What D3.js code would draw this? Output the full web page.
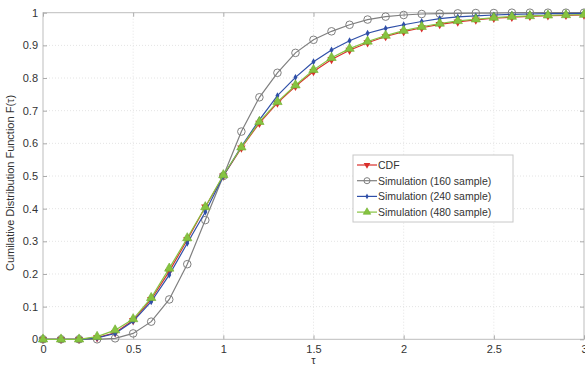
<!DOCTYPE html>
<html><head><meta charset="utf-8">
<script src="https://cdn.jsdelivr.net/npm/d3@7"></script>
<style>body{margin:0;background:#fff}svg{display:block}</style>
</head><body>
<svg id="c" width="585" height="365"></svg>
<script>
const tau = [0,0.1,0.2,0.3,0.4,0.5,0.6,0.7,0.8,0.9,1.0,1.1,1.2,1.3,1.4,1.5,1.6,1.7,1.8,1.9,2.0,2.1,2.2,2.3,2.4,2.5,2.6,2.7,2.8,2.9,3.0];
const cdf = [0,0,0,0.005,0.02,0.058,0.122,0.208,0.305,0.405,0.5,0.586,0.662,0.724,0.775,0.82,0.857,0.885,0.908,0.927,0.942,0.954,0.964,0.972,0.978,0.983,0.986,0.989,0.991,0.992,0.993];
const sim160 = [0,0,0,0,0.003,0.018,0.054,0.122,0.23,0.365,0.5,0.636,0.741,0.816,0.877,0.917,0.943,0.963,0.979,0.988,0.993,0.996,0.997,0.998,0.999,0.999,1,1,1,1,1];
const sim240 = [0,0,0,0.004,0.018,0.055,0.115,0.197,0.294,0.39,0.5,0.59,0.672,0.746,0.802,0.85,0.886,0.914,0.937,0.952,0.963,0.973,0.982,0.987,0.99,0.993,0.995,0.996,0.997,0.997,0.998];
const sim480 = [0,0,0,0.008,0.028,0.062,0.127,0.217,0.31,0.405,0.503,0.588,0.666,0.727,0.778,0.825,0.862,0.89,0.912,0.93,0.945,0.957,0.967,0.975,0.98,0.985,0.988,0.99,0.992,0.993,0.994];
const xTicks = [0,0.5,1,1.5,2,2.5,3];
const yTicks = [0,0.1,0.2,0.3,0.4,0.5,0.6,0.7,0.8,0.9,1];
const seriesNames = ["CDF","Simulation (160 sample)","Simulation (240 sample)","Simulation (480 sample)"];

const svg = d3.select("#c");
const L=43, R=584, T=12.7, B=339.3;
const x = d3.scaleLinear().domain([0,3]).range([L,R]);
const y = d3.scaleLinear().domain([0,1]).range([B,T]);
const font = "Liberation Sans, Arial, sans-serif";

// grid
const g = svg.append("g");
g.selectAll(".gx").data(xTicks.slice(1,-1)).enter().append("line")
 .attr("x1",d=>x(d)).attr("x2",d=>x(d)).attr("y1",T).attr("y2",B)
 .attr("stroke","#e4e4e4").attr("stroke-dasharray","1,2");
g.selectAll(".gy").data(yTicks.slice(1,-1)).enter().append("line")
 .attr("y1",d=>y(d)).attr("y2",d=>y(d)).attr("x1",L).attr("x2",R)
 .attr("stroke","#e4e4e4").attr("stroke-dasharray","1,2");

// frame
svg.append("rect").attr("x",L).attr("y",T).attr("width",R-L).attr("height",B-T)
 .attr("fill","none").attr("stroke","#bdbdbd").attr("stroke-width",1);

// axes
const ax = d3.axisBottom(x).tickValues(xTicks).tickSize(-4).tickPadding(6).tickFormat(d3.format("~g"));
const ay = d3.axisLeft(y).tickValues(yTicks).tickSize(-4).tickPadding(5).tickFormat(d3.format("~g"));
const gx = svg.append("g").attr("transform",`translate(0,${B})`).call(ax);
const gy = svg.append("g").attr("transform",`translate(${L},0)`).call(ay);
const gxt = svg.append("g").attr("transform",`translate(0,${T})`).call(d3.axisTop(x).tickValues(xTicks).tickSize(-4).tickFormat(""));
const gyr = svg.append("g").attr("transform",`translate(${R},0)`).call(d3.axisRight(y).tickValues(yTicks).tickSize(-4).tickFormat(""));
[gx,gy,gxt,gyr].forEach(a=>{
  a.select(".domain").remove();
  a.selectAll(".tick line").attr("stroke","#aaa");
  a.selectAll("text").attr("fill","#333").style("font-family",font).style("font-size","11px");
});

// series
const line = d3.line().x((d,i)=>x(tau[i])).y(d=>y(d));
const series = [
  {v:cdf, color:"#d9302c", mark:"tridown"},
  {v:sim160, color:"#7f7f7f", mark:"circle"},
  {v:sim240, color:"#2f4fa8", mark:"diamond"},
  {v:sim480, color:"#86c341", mark:"triup"}
];
function marker(sel, s, k){
  k = k || 1;
  if(s.mark==="circle"){
    sel.append("circle").attr("r",3.8*k).attr("fill","none").attr("stroke",s.color).attr("stroke-width",1);
  } else if(s.mark==="diamond"){
    sel.append("path").attr("d",d3.symbol(d3.symbolDiamond,14*k*k)()).attr("fill",s.color);
  } else if(s.mark==="triup"){
    sel.append("path").attr("d",d3.symbol(d3.symbolTriangle,38*k*k)()).attr("fill",s.color).attr("stroke","#6fae2e").attr("stroke-width",0.6);
  } else {
    sel.append("path").attr("d",d3.symbol(d3.symbolTriangle,30*k*k)()).attr("transform","rotate(180)").attr("fill",s.color);
  }
}
series.forEach(s=>{
  svg.append("path").datum(s.v).attr("d",line).attr("fill","none").attr("stroke",s.color).attr("stroke-width",1.2);
  s.v.forEach((d,i)=>{
    const m = svg.append("g").attr("transform",`translate(${x(tau[i])},${y(d)})`);
    marker(m,s);
  });
});

// labels
svg.append("text").attr("x",(L+R)/2).attr("y",364).attr("text-anchor","middle")
 .attr("fill","#333").style("font-family",font).style("font-size","11px").text("τ");
svg.append("text").attr("transform",`translate(14,183) rotate(-90)`).attr("text-anchor","middle")
 .attr("fill","#333").style("font-family",font).style("font-size","11px").text("Cumilative Distribution Function F(τ)");

// legend
const lg = svg.append("g").attr("transform","translate(353,155)");
lg.append("rect").attr("width",160).attr("height",67).attr("fill","#fff").attr("stroke","#c8c8c8");
series.forEach((s,i)=>{
  const yy = 10 + i*15.7;
  lg.append("line").attr("x1",4).attr("x2",24).attr("y1",yy).attr("y2",yy).attr("stroke",s.color).attr("stroke-width",1.2);
  marker(lg.append("g").attr("transform",`translate(14,${yy})`), s, 0.8);
  lg.append("text").attr("x",25).attr("y",yy+4).attr("fill","#333")
   .style("font-family",font).style("font-size","10.5px").text(seriesNames[i]);
});
</script>
</body></html>
